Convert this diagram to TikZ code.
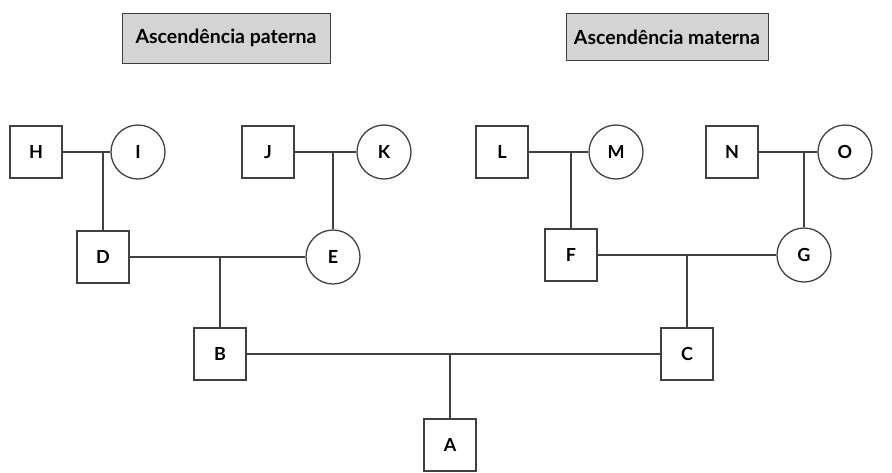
\documentclass[tikz,border=0pt]{standalone}
\usepackage{fontspec}
\setmainfont{Lato}
\usepackage{tikz}

\tikzset{
	male/.style={draw=black!75, line width=1.3pt, minimum size=52pt, inner sep=0pt, font=\bfseries\fontsize{18}{18}\selectfont},
	female/.style={draw=black!75, line width=1.3pt, circle, minimum size=54pt, inner sep=0pt, font=\bfseries\fontsize{18}{18}\selectfont},
	heading/.style={draw=black!75, line width=1pt, fill=black!17, minimum height=50pt, inner xsep=6pt, font=\bfseries\fontsize{19.5}{19.5}\selectfont},
	tie/.style={draw=black!75, line width=1.3pt}
}

\begin{document}
\begin{tikzpicture}[x=1pt, y=-1pt]
	\clip (0,0) rectangle (892,472);
	\useasboundingbox (0,0) rectangle (892,472);

	\node[heading, minimum width=208pt] (pat) at (226,38) {Ascendência paterna};
	\node[heading, minimum width=202pt, minimum height=47pt] (mat) at (667,37) {Ascendência materna};

	\node[male] (H) at (36,152) {H};
	\node[female] (I) at (138,152) {I};
	\node[male] (J) at (268,152) {J};
	\node[female] (K) at (384,152) {K};
	\node[male] (L) at (502,152) {L};
	\node[female] (M) at (616,152) {M};
	\node[male] (N) at (732,152) {N};
	\node[female] (O) at (845,152) {O};

	\node[male] (D) at (103,257) {D};
	\node[female] (E) at (333,257) {E};
	\node[male] (F) at (571,255) {F};
	\node[female] (G) at (804,255) {G};

	\node[male] (B) at (220,354) {B};
	\node[male] (C) at (687,354) {C};

	\node[male] (A) at (450,445) {A};

	\draw[tie] (H) -- (I);
	\draw[tie] (J) -- (K);
	\draw[tie] (L) -- (M);
	\draw[tie] (N) -- (O);
	\draw[tie] (D) -- (E);
	\draw[tie] (F) -- (G);
	\draw[tie] (B) -- (C);

	\draw[tie] (D.north) -- (D.north |- H.center);
	\draw[tie] (E.north) -- (E.north |- K.center);
	\draw[tie] (F.north) -- (F.north |- M.center);
	\draw[tie] (G.north) -- (G.north |- O.center);
	\draw[tie] (B.north) -- (B.north |- D.center);
	\draw[tie] (C.north) -- (C.north |- G.center);
	\draw[tie] (A.north) -- (A.north |- B.center);
\end{tikzpicture}
\end{document}
